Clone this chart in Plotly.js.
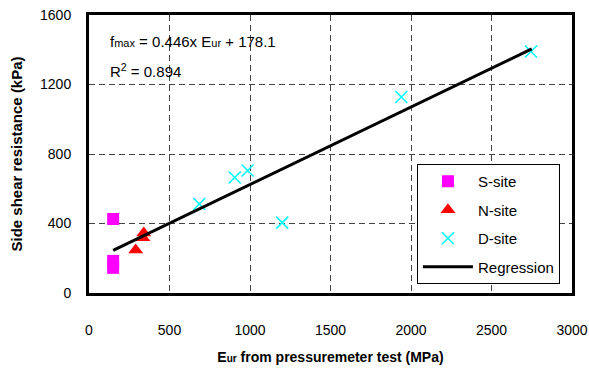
<!DOCTYPE html>
<html>
<head>
<meta charset="utf-8">
<script src="https://cdn.plot.ly/plotly-3.0.1.min.js"></script>
<style>html,body{margin:0;padding:0;background:#fff;}#chart{width:589px;height:376px;}</style>
</head>
<body>
<div id="chart"></div>
<script>
// Data
const sSiteX = [150, 150, 150];
const sSiteY = [426, 185, 145];
const nSiteX = [290, 335, 340];
const nSiteY = [248, 318, 345];
const dSiteX = [685, 905, 985, 1200, 1940, 2745];
const dSiteY = [512, 665, 705, 405, 1128, 1390];
const regX = [150, 2750];
const regY = [245, 1405];
const xTicks = [0, 500, 1000, 1500, 2000, 2500, 3000];
const yTicks = [0, 400, 800, 1200, 1600];

const FONT = 'Liberation Sans, Arial, sans-serif';

const traces = [
  {x: sSiteX, y: sSiteY, name: 'S-site', mode: 'markers', type: 'scatter', legendgroup: 'a',
   marker: {symbol: 'square', size: 12, color: '#ff00ff'}},
  {x: nSiteX, y: nSiteY, name: 'N-site', mode: 'markers', type: 'scatter', legendgroup: 'b',
   marker: {symbol: 'triangle-up', size: 13, color: '#ff0000'}},
  {x: dSiteX, y: dSiteY, name: 'D-site', mode: 'markers', type: 'scatter', legendgroup: 'c',
   marker: {symbol: 'x-thin-open', size: 12, color: '#00ffff', line: {color: '#00ffff', width: 1.6}}},
  {x: regX, y: regY, name: 'Regression', mode: 'lines', type: 'scatter', legendgroup: 'd',
   line: {color: '#000', width: 3}}
];

const layout = {
  width: 589, height: 376,
  margin: {l: 89, r: 17, t: 15, b: 83},
  paper_bgcolor: '#fff', plot_bgcolor: '#fff',
  font: {family: FONT, size: 14, color: '#000'},
  showlegend: true,
  legend: {x: 0.679, y: 0.464, xanchor: 'left', yanchor: 'top',
           bgcolor: '#fff', bordercolor: '#000', borderwidth: 1,
           font: {family: FONT, size: 15, color: '#000'},
           itemwidth: 50, tracegroupgap: 6, traceorder: 'grouped'},
  xaxis: {range: [0, 3000], tickvals: xTicks, ticktext: xTicks.map(String),
          showline: true, mirror: true, linewidth: 3, linecolor: '#000',
          showgrid: true, gridcolor: '#444', gridwidth: 1, griddash: '6px,4px',
          zeroline: false, ticks: 'outside', ticklen: 22, tickcolor: 'rgba(0,0,0,0)',
          tickfont: {family: FONT, size: 14},
          title: {text: '<b>E<span style="font-size:10px">ur</span> from pressuremeter test (MPa)</b>',
                  font: {family: FONT, size: 14}, standoff: 16}},
  yaxis: {range: [0, 1600], tickvals: yTicks, ticktext: yTicks.map(String),
          showline: true, mirror: true, linewidth: 3, linecolor: '#000',
          showgrid: true, gridcolor: '#444', gridwidth: 1, griddash: '6px,4px',
          zeroline: false, ticks: 'outside', ticklen: 12, tickcolor: 'rgba(0,0,0,0)',
          tickfont: {family: FONT, size: 14},
          title: {text: '<b>Side shear resistance (kPa)</b>', font: {family: FONT, size: 15}, standoff: 14}},
  annotations: [
    {xref: 'paper', yref: 'paper', x: 0.039, y: 0.903, xanchor: 'left', yanchor: 'middle', showarrow: false,
     text: 'f<span style="font-size:11px">max</span> = 0.446x E<span style="font-size:11px">ur</span> + 178.1',
     font: {family: FONT, size: 15}},
    {xref: 'paper', yref: 'paper', x: 0.039, y: 0.799, xanchor: 'left', yanchor: 'middle', showarrow: false,
     text: 'R<sup>2</sup> = 0.894', font: {family: FONT, size: 15}}
  ]
};

Plotly.newPlot('chart', traces, layout, {displayModeBar: false, staticPlot: true});
</script>
</body>
</html>
